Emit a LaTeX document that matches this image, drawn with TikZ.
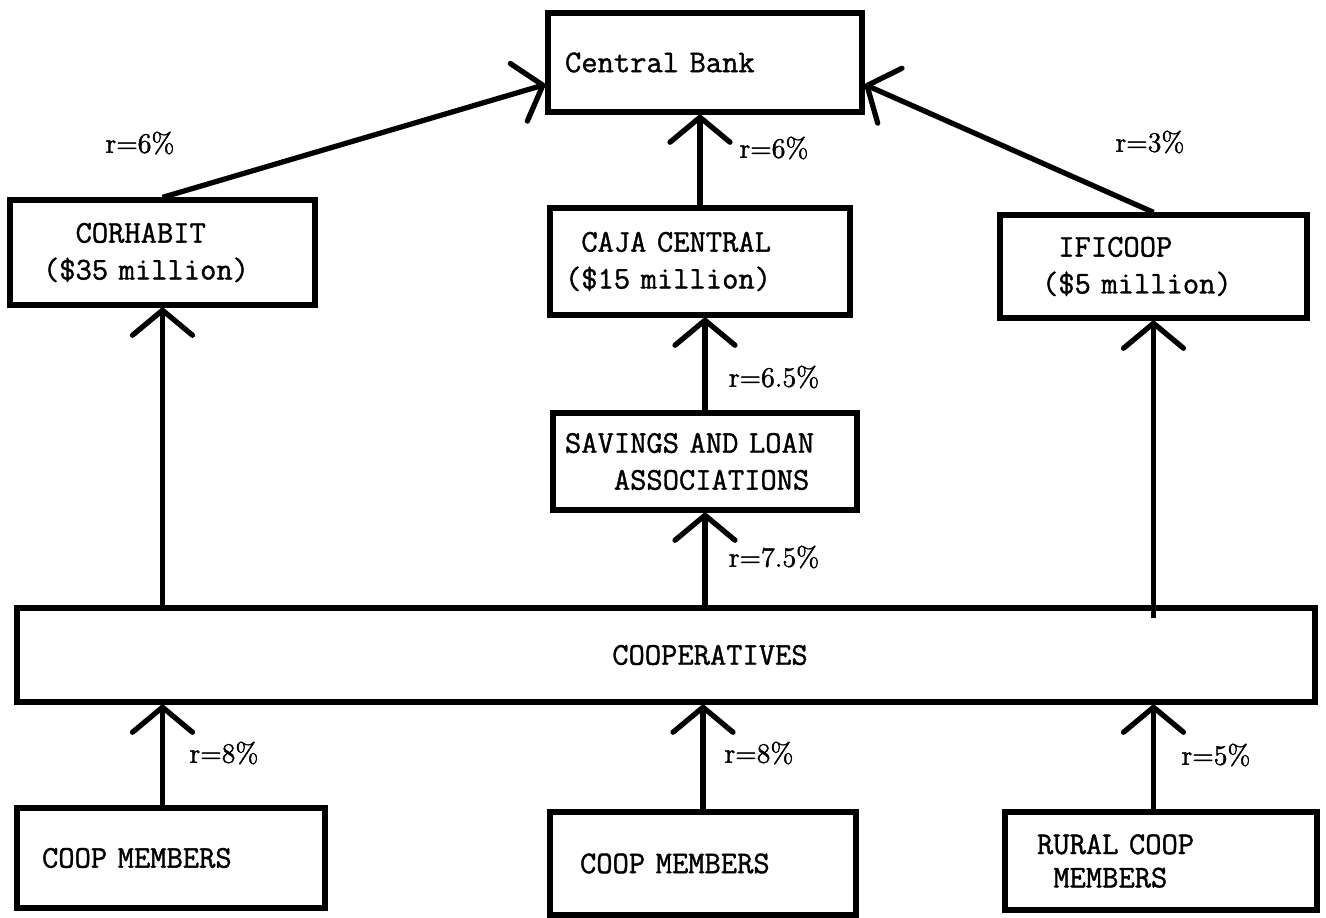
\documentclass[tikz,border=0pt]{standalone}
\usepackage{fontspec}
\newfontfamily\typewriter{lmmono12-regular.otf}[FakeBold=1.2]
\newfontfamily\ratefont{lmroman12-regular.otf}[FakeBold=1.6]
\usetikzlibrary{arrows.meta,positioning}

\begin{document}
\begin{tikzpicture}[x=0.02cm, y=-0.02cm,
        box/.style={draw, line width=3pt, align=left, font=\fontsize{18}{21}\selectfont\typewriter},
        flow/.style={line width=3pt, -{Straight Barb[length=0.5cm, width=1.2cm, round]}},
        rate/.style={font=\fontsize{16}{19}\selectfont\ratefont}]
    \useasboundingbox (0,0) rectangle (1326,918);

    \node[box, text width=5.6cm, inner xsep=0.34cm, minimum height=1.98cm] (bank) at (705,62.5) {Central Bank};

    \node[box, text width=4.78cm, inner xsep=0.66cm, minimum height=2.1cm] (corhabit) at (162.5,252.5) {\hphantom{MM}CORHABIT\\(\$35 million)};
    \node[box, text width=5.4cm, inner xsep=0.3cm, minimum height=2.14cm] (caja) at (700,261.5) {\hphantom{M}CAJA CENTRAL\\(\$15 million)};
    \node[box, text width=4.46cm, inner xsep=0.84cm, minimum height=2.06cm] (ificoop) at (1153.5,266.5) {\hphantom{M}IFICOOP\\(\$5 million)};

    \node[box, text width=5.6cm, inner xsep=0.24cm, minimum height=1.94cm] (savings) at (705,461.5) {SAVINGS AND LOAN\\\hphantom{MMM}ASSOCIATIONS};

    \node[box, minimum width=25.96cm, minimum height=1.88cm] (coops) at (666,655) {\hspace*{1.76cm}COOPERATIVES};

    \node[box, text width=5.16cm, inner xsep=0.5cm, minimum height=2cm] (memA) at (171,858) {COOP MEMBERS};
    \node[box, text width=4.92cm, inner xsep=0.6cm, minimum height=2.06cm] (memB) at (703,863.5) {COOP MEMBERS};
    \node[box, text width=4.96cm, inner xsep=0.64cm, minimum height=1.96cm,
          font=\fontsize{18}{19}\selectfont\typewriter] (rural) at (1161,861) {RURAL COOP\\\hphantom{M}MEMBERS};

    % flows up to the central bank
    \draw[flow] (corhabit.north) -- ([yshift=-0.44cm]bank.west);
    \draw[flow] (caja.north) -- (caja.north |- bank.south);
    \draw[flow] (ificoop.north) -- ([yshift=-0.44cm]bank.east);

    % flows out of the cooperatives
    \draw[flow] (coops.north -| corhabit.south) -- (corhabit.south);
    \draw[flow] (coops.north -| savings.south) -- (savings.south);
    \draw[flow] (savings.north) -- (savings.north |- caja.south);
    \draw[flow, shorten <=-0.25cm] (coops.north -| ificoop.south) -- (ificoop.south);

    % members into the cooperatives
    \draw[flow] (memA.north -| corhabit.south) -- (coops.south -| corhabit.south);
    \draw[flow] (memB.north) -- (memB.north |- coops.south);
    \draw[flow] (rural.north -| ificoop.south) -- (coops.south -| ificoop.south);

    \node[rate] (rA) at (140,143) {r=6\%};
    \node[rate] (rB) at (774,148) {r=6\%};
    \node[rate] (rC) at (1150,142) {r=3\%};
    \node[rate] (rD) at (774,377) {r=6.5\%};
    \node[rate] (rE) at (774,557) {r=7.5\%};
    \node[rate] (rF) at (224,753) {r=8\%};
    \node[rate] (rG) at (759,753) {r=8\%};
    \node[rate] (rH) at (1216,755) {r=5\%};
\end{tikzpicture}
\end{document}
